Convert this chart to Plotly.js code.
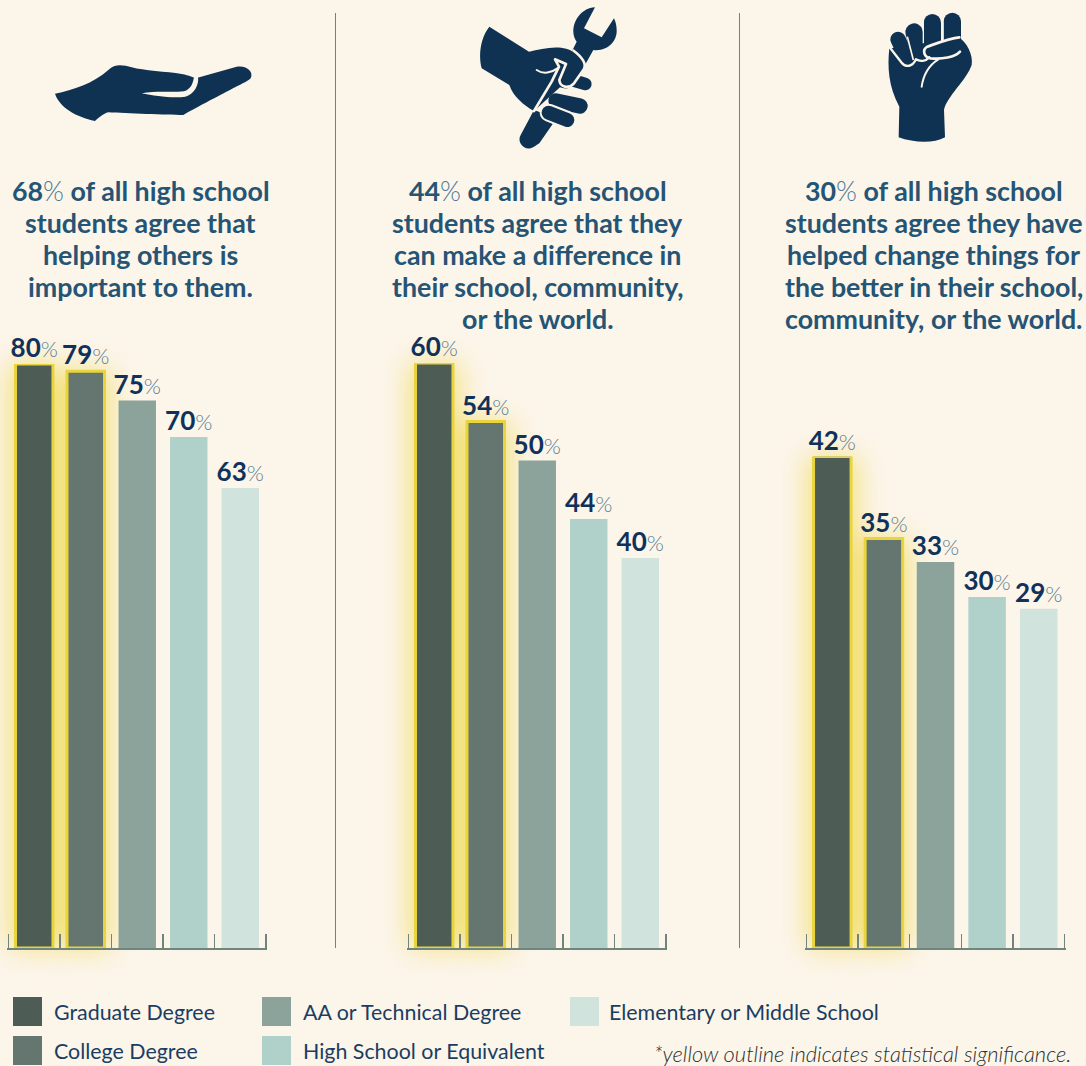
<!DOCTYPE html>
<html>
<head>
<meta charset="utf-8">
<script src="https://cdn.plot.ly/plotly-3.0.1.min.js"></script>
<style>html,body{margin:0;padding:0;background:#fcf5ea;overflow:hidden}#chart{width:1086px;height:1066px}</style>
</head>
<body>
<div id="chart"></div>
<script>
// ---- data ----
const categories = ["Graduate Degree","College Degree","AA or Technical Degree","High School or Equivalent","Elementary or Middle School"];
const helpingOthers = [80,79,75,70,63];
const makeDifference = [60,54,50,44,40];
const changedThings = [42,35,33,30,29];
const helpingSignificant = [true,true,false,false,false];
const differenceSignificant = [true,true,false,false,false];
const changedSignificant = [true,true,false,false,false];
const barColors = ["#4d5c55","#64766f","#8ca39b","#b0d1c9","#d1e3dd"];
const headlineHelping = ["<b>68</b><span style='font-weight:300;color:#4f7a96'>%</span> of all high school","students agree that","helping others is","important to them."];
const headlineDifference = ["<b>44</b><span style='font-weight:300;color:#4f7a96'>%</span> of all high school","students agree that they","can make a difference in","their school, community,","or the world."];
const headlineChanged = ["<b>30</b><span style='font-weight:300;color:#4f7a96'>%</span> of all high school","students agree they have","helped change things for","the better in their school,","community, or the world."];
const footnote = "*yellow outline indicates statistical significance.";

// ---- layout constants ----
const W = 1086, H = 1066, BASE = 948, EDGE = 0.02;
const px = v => v / W, py = v => 1 - v / H;
const panels = [
  {vals: helpingOthers, sig: helpingSignificant, left: 8.5, right: 266, pxPerUnit: 7.3, lines: headlineHelping, cx: 140.5},
  {vals: makeDifference, sig: differenceSignificant, left: 408.5, right: 666, pxPerUnit: 9.75, lines: headlineDifference, cx: 537.5},
  {vals: changedThings, sig: changedSignificant, left: 806.5, right: 1064.5, pxPerUnit: 11.7, lines: headlineChanged, cx: 933.5}
];

const traces = [];
const layout = {
  width: W, height: H, margin: {l:0,r:0,t:0,b:0,pad:0},
  paper_bgcolor: "#fcf5ea", plot_bgcolor: "rgba(0,0,0,0)",
  showlegend: false, barmode: "overlay", hovermode: false,
  font: {family: "Lato, sans-serif"},
  shapes: [], annotations: [], images: []
};

const slots = categories.map((c, i) => i);
panels.forEach((p, i) => {
  const sfx = i === 0 ? "" : String(i + 1);
  const top = Math.max(...p.vals);
  const slotPx = (p.right - p.left) / categories.length;
  layout["xaxis" + sfx] = {
    domain: [px(p.left - EDGE * slotPx), px(p.right + EDGE * slotPx)], anchor: "y" + sfx, type: "linear",
    range: [-0.5 - EDGE, categories.length - 0.5 + EDGE],
    tickmode: "array", tickvals: [-0.5, ...slots.map(s => s + 0.5)],
    ticks: "inside", ticklen: 14, tickwidth: 1.3, tickcolor: "#6f857e",
    showline: true, linecolor: "#6f857e", linewidth: 1.5,
    showticklabels: false, showgrid: false, zeroline: false, fixedrange: true
  };
  layout["yaxis" + sfx] = {
    domain: [py(BASE), py(BASE - top * p.pxPerUnit)], anchor: "x" + sfx, range: [0, top],
    visible: false, showgrid: false, zeroline: false, fixedrange: true
  };
  // glow layer below the significant bars
  const sigSlots = slots.filter(k => p.sig[k]);
  traces.push({
    type: "bar", x: sigSlots, y: sigSlots.map(k => p.vals[k]), xaxis: "x" + sfx, yaxis: "y" + sfx, width: 0.95,
    marker: {color: "#f3e07a", line: {width: 0}}, cliponaxis: false, hoverinfo: "skip"
  });
  traces.push({
    type: "bar", x: slots, y: p.vals, name: "", customdata: categories, xaxis: "x" + sfx, yaxis: "y" + sfx, width: 0.727,
    marker: {
      color: barColors,
      line: {color: p.sig.map(s => s ? "#e8d43c" : "rgba(0,0,0,0)"), width: p.sig.map(s => s ? 3 : 0)}
    },
    text: p.vals.map(v => "<b>" + v + "</b><span style='font-weight:300;font-size:22px;color:#5f7f94'>%</span>"),
    textposition: "outside", constraintext: "none", cliponaxis: false,
    textfont: {family: "Lato, sans-serif", size: 26, color: "#10325a"},
    hoverinfo: "skip"
  });
  p.lines.forEach((line, k) => layout.annotations.push({
    xref: "paper", yref: "paper", x: px(p.cx), y: py(191 + k * 32), xanchor: "center", yanchor: "middle",
    showarrow: false, align: "center", text: line,
    font: {family: "Lato, sans-serif", size: 26.8, color: "#255474", weight: 700}, borderpad: 0
  }));
});

// separators
[335.5, 739.5].forEach(x => layout.shapes.push({
  type: "line", xref: "paper", yref: "paper", x0: px(x), x1: px(x), y0: py(13), y1: py(948),
  line: {color: "#77807c", width: 1}, layer: "below"
}));

// legend
const legendSlots = [[13,997],[13,1036],[262,997],[262,1036],[570,997]];
const legendTextX = [52,52,301,301,607];
categories.forEach((c, i) => {
  const [x, y] = legendSlots[i];
  layout.shapes.push({
    type: "rect", xref: "paper", yref: "paper", x0: px(x), x1: px(x + 29), y0: py(y), y1: py(y + 29),
    fillcolor: barColors[i], line: {width: 0}
  });
  layout.annotations.push({
    xref: "paper", yref: "paper", x: px(legendTextX[i]), y: py(y + 15), xanchor: "left", yanchor: "middle",
    showarrow: false, text: c, font: {family: "Lato, sans-serif", size: 21.4, color: "#1a3d62"}
  });
});
layout.annotations.push({
  xref: "paper", yref: "paper", x: px(1073), y: py(1053), xanchor: "right", yanchor: "middle",
  showarrow: false, text: "<i>" + footnote + "</i>",
  font: {family: "Lato, sans-serif", size: 21.9, color: "#2c2f30", weight: 300}
});

// icons
const navy = "#0f3252", cream = "#fcf5ea";
function icon(vw, vh, body, x, y, w, h) {
  const svg = `<svg xmlns="http://www.w3.org/2000/svg" viewBox="0 0 ${vw} ${vh}" width="${w}" height="${h}">${body}</svg>`;
  layout.images.push({
    source: "data:image/svg+xml;base64," + btoa(svg), xref: "paper", yref: "paper",
    x: px(x), y: py(y), sizex: w / W, sizey: h / H, xanchor: "left", yanchor: "top", sizing: "stretch", layer: "above"
  });
}
icon(660, 240, `
<path fill="${navy}" d="M45 131C100 120 160 100 205 60C225 40 250 45 275 52C310 62 380 65 425 72C450 76 462 85 470 84L590 50C620 45 642 65 632 85C622 96 600 102 430 195C380 195 260 190 205 187C190 190 175 205 165 213C110 200 60 175 45 131Z"/>
<path fill="${cream}" d="M305 130C345 122 400 128 432 124C452 118 460 100 462 78L474 80C478 105 462 132 436 140C400 146 345 138 305 130Z"/>`,
40, 50, 220, 80);

const finger = (x1,y1,x2,y2,w) => `<line x1="${x1}" y1="${y1}" x2="${x2}" y2="${y2}" stroke="${cream}" stroke-width="${w+12}" stroke-linecap="round"/><line x1="${x1}" y1="${y1}" x2="${x2}" y2="${y2}" stroke="${navy}" stroke-width="${w}" stroke-linecap="round"/>`;
icon(510, 480, `
<path fill="${navy}" d="M405 22C365 25 340 60 340 95C340 108 345 118 350 125L335 155L372 200L400 150C440 155 472 125 470 90C470 78 467 65 462 55L425 112L372 85Z"/>
<path fill="${navy}" d="M222 330L182 405C170 425 190 450 212 445C222 442 230 435 238 430L290 355Z"/>
${finger(342,242,376,252,38)}
${finger(288,303,360,318,46)}
${finger(266,338,322,360,42)}
<path fill="${navy}" d="M88 80L207 155C250 145 310 130 345 160C368 178 378 195 372 205L342 250C330 268 315 268 300 262L222 333C190 315 160 290 148 255L65 205C55 170 60 115 88 80Z"/>
<path fill="none" stroke="${cream}" stroke-width="8" d="M338 150C365 170 380 190 372 207"/>
<path fill="none" stroke="${cream}" stroke-width="8" stroke-linecap="round" stroke-linejoin="round" d="M222 333L275 245L297 200L285 178L318 192L298 240C300 262 325 268 342 250L372 207"/>
<path fill="none" stroke="${cream}" stroke-width="6" stroke-linecap="round" d="M230 210C250 224 275 218 292 205"/>`,
460, 0, 170, 160);

icon(360, 480, `
<g stroke="${navy}" stroke-linecap="round" fill="none">
<line x1="84" y1="118" x2="112" y2="178" stroke-width="46"/>
<line x1="132" y1="96" x2="152" y2="170" stroke-width="52"/>
<line x1="187" y1="68" x2="187" y2="130" stroke-width="52"/>
<line x1="247" y1="64" x2="247" y2="118" stroke-width="52"/>
</g>
<path fill="${navy}" d="M58 145C52 200 55 260 88 320L86 412C130 428 190 432 225 412L222 330C230 290 290 240 305 195C310 165 290 125 265 112L170 135L60 145Z"/>
<path fill="none" stroke="${cream}" stroke-width="7" stroke-linecap="round" stroke-linejoin="round" d="M60 143L95 188C108 204 128 200 138 178C150 186 168 184 178 172"/>
<path fill="none" stroke="${cream}" stroke-width="8" stroke-linecap="round" d="M268 112C240 114 200 130 172 140C155 150 162 172 182 175C215 178 255 172 270 155"/>
<path fill="none" stroke="${cream}" stroke-width="6" stroke-linecap="round" d="M155 260C160 225 178 195 205 178"/>
<line x1="130" y1="180" x2="112" y2="110" stroke="${cream}" stroke-width="5"/>
<line x1="160" y1="130" x2="160" y2="60" stroke="${cream}" stroke-width="4"/>
<line x1="218" y1="120" x2="218" y2="50" stroke="${cream}" stroke-width="5"/>`,
870, 0, 120, 160);

Plotly.newPlot("chart", traces, layout, {displayModeBar: false, staticPlot: true}).then(gd => {
  gd.querySelectorAll(".barlayer").forEach(l => {
    const glow = l.querySelector(".trace.bars");
    if (glow) glow.style.filter = "blur(14px)";
  });
  gd.querySelectorAll(".bartext").forEach(t => {
    t.setAttribute("transform", "translate(0,2) " + (t.getAttribute("transform") || ""));
  });
});
</script>
</body>
</html>
